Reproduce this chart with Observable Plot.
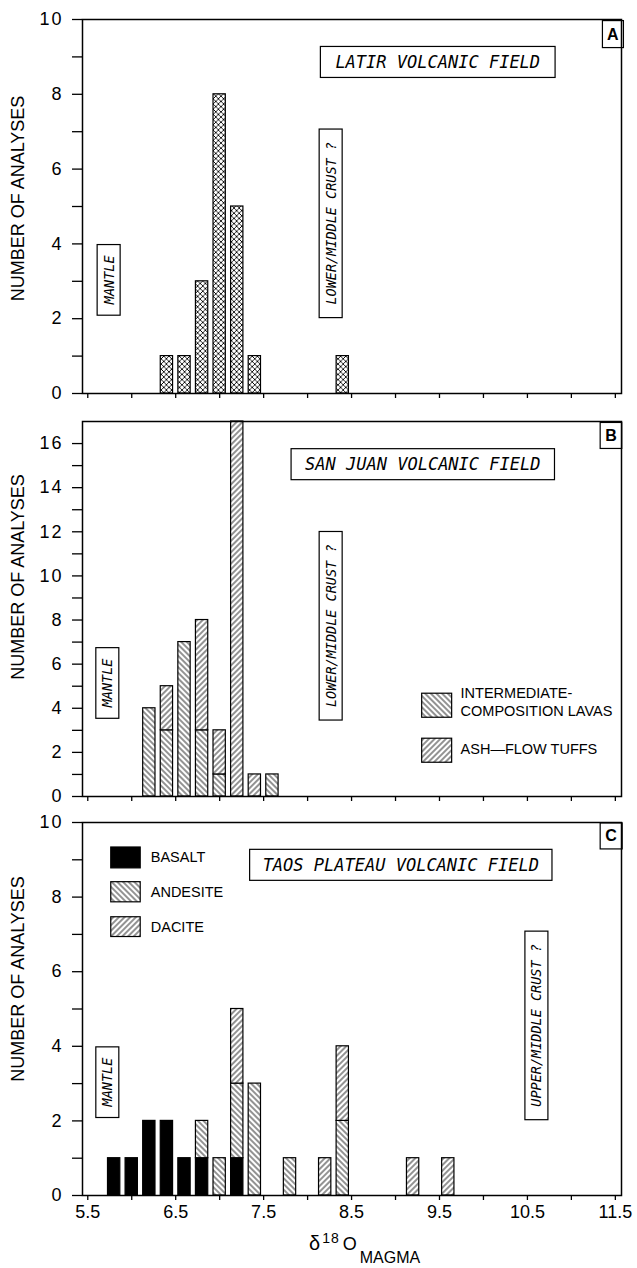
<!DOCTYPE html>
<html><head><meta charset="utf-8">
<script src="https://cdn.jsdelivr.net/npm/d3@7"></script>
<script src="https://cdn.jsdelivr.net/npm/@observablehq/plot@0.6"></script>
<style>
body{margin:0;background:#fff;}
#wrap{position:relative;width:637px;height:1268px;overflow:hidden;background:#fff;}
.panel{position:absolute;left:0;}
#xlabel{position:absolute;left:309px;top:1232px;font-family:"Liberation Sans",Arial,sans-serif;color:#000;white-space:nowrap;}
#xlabel .d{font-size:20px;}
#xlabel .s{font-size:14px;position:relative;top:-7px;margin-left:2px;letter-spacing:1px;}
#xlabel .o{font-size:18px;margin-left:3px;}
#xlabel .m{font-size:16px;position:relative;top:13px;margin-left:3px;}
</style></head><body><div id="wrap"></div>
<script>
// ---- data ----
const latirBins = [6.4, 6.6, 6.8, 7.0, 7.2, 7.4, 8.4];
const latirCounts = [1, 1, 3, 8, 5, 1, 1];

const sanJuanBins = [6.2, 6.4, 6.6, 6.8, 7.0, 7.2, 7.4, 7.6];
const sanJuanLavas = [4, 3, 7, 3, 1, 0, 0, 1];
const sanJuanTuffs = [0, 2, 0, 5, 2, 17, 1, 0];

const taosBins = [5.8, 6.0, 6.2, 6.4, 6.6, 6.8, 7.0, 7.2, 7.4, 7.8, 8.2, 8.4, 9.2, 9.6];
const taosBasalt = [1, 1, 2, 2, 1, 1, 0, 1, 0, 0, 0, 0, 0, 0];
const taosAndesite = [0, 0, 0, 0, 0, 1, 1, 2, 3, 1, 0, 2, 0, 0];
const taosDacite = [0, 0, 0, 0, 0, 0, 0, 2, 0, 0, 1, 2, 1, 1];

const xTicks = [5.5, 6, 6.5, 7, 7.5, 8, 8.5, 9, 9.5, 10, 10.5, 11, 11.5];
const xTickLabels = ["5.5", "", "6.5", "", "7.5", "", "8.5", "", "9.5", "", "10.5", "", "11.5"];
const yTicks10 = [0, 1, 2, 3, 4, 5, 6, 7, 8, 9, 10];
const yTicks17 = [0, 1, 2, 3, 4, 5, 6, 7, 8, 9, 10, 11, 12, 13, 14, 15, 16];

const yTitle = "NUMBER OF ANALYSES";
const titleA = "LATIR VOLCANIC FIELD";
const titleB = "SAN JUAN VOLCANIC FIELD";
const titleC = "TAOS PLATEAU VOLCANIC FIELD";
const mantleLabel = "MANTLE";
const lowerCrust = "LOWER/MIDDLE CRUST ?";
const upperCrust = "UPPER/MIDDLE CRUST ?";
const legendB = ["INTERMEDIATE-", "COMPOSITION LAVAS", "ASH\u2014FLOW TUFFS"];
const legendC = ["BASALT", "ANDESITE", "DACITE"];

// ---- helpers ----
const HW = 0.07;
const FONT = '"Liberation Sans", Arial, sans-serif';
const MONO = '"DejaVu Sans Mono", monospace';

function stackRows(bins, series) {
  const rows = [];
  bins.forEach((x, i) => {
    for (const [type, vals] of series) if (vals[i] > 0) rows.push({x, type, n: vals[i]});
  });
  return rows;
}

function addPatterns(svg, p) {
  const defs = d3.select(svg).insert("defs", ":first-child");
  const c = 5.2;
  const x = defs.append("pattern").attr("id", p + "x").attr("patternUnits", "userSpaceOnUse")
    .attr("width", c).attr("height", c);
  x.append("rect").attr("width", c).attr("height", c).attr("fill", "white");
  x.append("path").attr("d", `M0,0L${c},${c}M${c},0L0,${c}`).attr("stroke", "black").attr("stroke-width", 0.85);
  const mk = (id, rot, sp) => {
    const g = defs.append("pattern").attr("id", p + id).attr("patternUnits", "userSpaceOnUse")
      .attr("width", 10).attr("height", sp).attr("patternTransform", `rotate(${rot})`);
    g.append("rect").attr("width", 10).attr("height", sp).attr("fill", "white");
    g.append("line").attr("x1", 0).attr("x2", 10).attr("y1", sp / 2).attr("y2", sp / 2)
      .attr("stroke", "black").attr("stroke-width", 0.85);
  };
  mk("b", 45, 4);
  mk("f", -45, 4);
}

function boxTexts(svg, pads) {
  d3.select(svg).selectAll('g[aria-label="text"] text').each(function () {
    const p = pads[this.textContent];
    if (!p) return;
    const bb = this.getBBox();
    const t = this;
    d3.select(this.parentNode).insert("rect", () => t)
      .attr("x", bb.x - p[0]).attr("y", bb.y - p[1])
      .attr("width", bb.width + 2 * p[0]).attr("height", bb.height + 2 * p[1])
      .attr("transform", this.getAttribute("transform"))
      .attr("fill", "white").attr("stroke", "black").attr("stroke-width", 1.2);
  });
}

function styleAxes(svg) {
  d3.select(svg).selectAll('[aria-label^="x-axis"] path, [aria-label^="y-axis"] path, [aria-label^="x-axis"] line, [aria-label^="y-axis"] line')
    .attr("stroke-width", 1.3);
  d3.select(svg).selectAll('[aria-label^="y-axis"] text').attr("letter-spacing", "2px");
}

function panel({id, top, height, marginTop, marginBottom, yDomain, yTicks, showX, marks, pads}) {
  const svg = Plot.plot({
    width: 637, height, marginLeft: 82, marginRight: 16, marginTop, marginBottom,
    x: {domain: [5.44, 11.57], ticks: xTicks, tickSize: 5, tickPadding: 5, label: null,
        tickFormat: d => showX ? xTickLabels[xTicks.indexOf(d)] : ""},
    y: {domain: yDomain, ticks: yTicks, tickSize: 10, tickPadding: 9, label: null,
        tickFormat: d => (d % 2 === 0 ? String(d) : "")},
    color: {type: "identity"},
    style: {fontFamily: FONT, fontSize: "18px", color: "black", background: "white", overflow: "visible"},
    marks: [...marks, Plot.frame({stroke: "black", strokeWidth: 1.5})]
  });
  addPatterns(svg, id);
  const div = document.createElement("div");
  div.className = "panel";
  div.style.top = top + "px";
  div.appendChild(svg);
  document.getElementById("wrap").appendChild(div);
  boxTexts(svg, pads);
  styleAxes(svg);
  return svg;
}

const barOpts = {x1: d => d.x - HW, x2: d => d.x + HW, y: "n", stroke: "black", strokeWidth: 1.2};
const yTitleMark = (dy) => Plot.text([yTitle], {frameAnchor: "left", textAnchor: "middle", lineAnchor: "middle",
  dx: -64, dy, rotate: -90, text: d => d, fontFamily: FONT, fontSize: 18, fontWeight: "normal"});
const annot = (txt, x, y, size, rotate = 0, anchor = "middle") => Plot.text([txt], {x, y, text: d => d, rotate,
  textAnchor: anchor, fontFamily: MONO, fontStyle: "italic", fontSize: size});
const letter = (txt, x, y) => Plot.text([txt], {x, y, text: d => d, fontFamily: FONT, fontWeight: "bold", fontSize: 16});
const legText = (txt, x, y) => Plot.text([txt], {x, y, text: d => d, textAnchor: "start", fontFamily: FONT, fontSize: 14.5});

const padsCommon = {
  [mantleLabel]: [10, 3.5], [lowerCrust]: [13, 3.5], [upperCrust]: [13, 3.5],
  [titleA]: [15, 5.5], [titleB]: [14, 5.5], [titleC]: [13, 5.5],
  "A": [4.5, 5], "B": [5, 4.5], "C": [5, 4.5]
};

// ---- Panel A ----
const latirRows = latirBins.map((x, i) => ({x, n: latirCounts[i]}));
panel({
  id: "pa-", top: 0, height: 407, marginTop: 19, marginBottom: 14,
  yDomain: [0, 10], yTicks: yTicks10, showX: false, pads: padsCommon,
  marks: [
    Plot.rectY(latirRows, {...barOpts, fill: () => "url(#pa-x)"}),
    annot(titleA, 9.48, 8.85, 17),
    annot(mantleLabel, 5.745, 3.04, 13.5, -90),
    annot(lowerCrust, 8.27, 4.55, 13.5, -90),
    letter("A", 11.47, 9.6),
    yTitleMark(-8)
  ]
});

// ---- Panel B ----
const sjRows = stackRows(sanJuanBins, [["lava", sanJuanLavas], ["tuff", sanJuanTuffs]]);
const sjFill = {lava: "url(#pb-b)", tuff: "url(#pb-f)"};
panel({
  id: "pb-", top: 407, height: 400, marginTop: 14, marginBottom: 11,
  yDomain: [0, 17], yTicks: yTicks17, showX: false, pads: padsCommon,
  marks: [
    Plot.rectY(sjRows, {...barOpts, z: "type", fill: d => sjFill[d.type]}),
    annot(titleB, 9.31, 15.04, 17),
    annot(mantleLabel, 5.73, 5.15, 13.5, -90),
    annot(lowerCrust, 8.27, 7.74, 13.5, -90),
    letter("B", 11.45, 16.35),
    Plot.rect([0], {x1: 9.303, x2: 9.644, y1: 3.57, y2: 4.66, fill: () => "url(#pb-b)", stroke: "black", strokeWidth: 1.2}),
    Plot.rect([0], {x1: 9.303, x2: 9.644, y1: 1.53, y2: 2.62, fill: () => "url(#pb-f)", stroke: "black", strokeWidth: 1.2}),
    legText(legendB[0], 9.74, 4.68),
    legText(legendB[1], 9.74, 3.86),
    legText(legendB[2], 9.74, 2.12),
    yTitleMark(-32)
  ]
});

// ---- Panel C ----
const taosRows = stackRows(taosBins, [["basalt", taosBasalt], ["andesite", taosAndesite], ["dacite", taosDacite]]);
const taosFill = {basalt: "black", andesite: "url(#pc-b)", dacite: "url(#pc-f)"};
panel({
  id: "pc-", top: 807, height: 461, marginTop: 15, marginBottom: 73,
  yDomain: [0, 10], yTicks: yTicks10, showX: true, pads: padsCommon,
  marks: [
    Plot.rectY(taosRows, {...barOpts, z: "type", fill: d => taosFill[d.type]}),
    annot(titleC, 9.06, 8.85, 17),
    annot(mantleLabel, 5.73, 3.04, 13.5, -90),
    annot(upperCrust, 10.61, 4.56, 13.5, -90),
    letter("C", 11.45, 9.63),
    Plot.rect([0], {x1: 5.767, x2: 6.102, y1: 8.77, y2: 9.33, fill: "black", stroke: "black", strokeWidth: 1.2}),
    Plot.rect([0], {x1: 5.767, x2: 6.102, y1: 7.86, y2: 8.40, fill: () => "url(#pc-b)", stroke: "black", strokeWidth: 1.2}),
    Plot.rect([0], {x1: 5.767, x2: 6.102, y1: 6.93, y2: 7.46, fill: () => "url(#pc-f)", stroke: "black", strokeWidth: 1.2}),
    legText(legendC[0], 6.216, 9.06),
    legText(legendC[1], 6.216, 8.13),
    legText(legendC[2], 6.216, 7.19),
    yTitleMark(-30)
  ]
});

const xl = document.createElement("div");
xl.id = "xlabel";
xl.innerHTML = '<span class="d">\u03b4</span><span class="s">18</span><span class="o">O</span><span class="m">MAGMA</span>';
document.getElementById("wrap").appendChild(xl);
</script></body></html>
